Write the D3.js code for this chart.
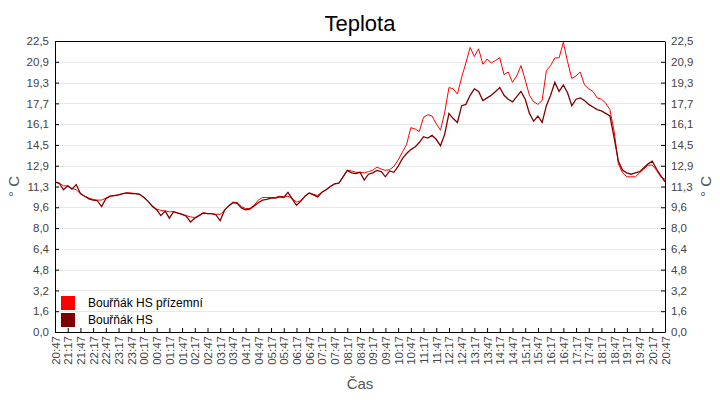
<!DOCTYPE html>
<html>
<head>
<meta charset="utf-8">
<script src="https://cdn.jsdelivr.net/npm/d3@7"></script>
<style>
  body { margin: 0; background: #fff; }
  text { font-family: "Liberation Sans", Arial, sans-serif; }
</style>
</head>
<body>
<svg width="720" height="400"></svg>
<script>
// Teplota - two temperature series, 10 min steps from 20:47 to 20:47
var timeLabels = ["20:47","21:17","21:47","22:17","22:47","23:17","23:47","00:17","00:47","01:17","01:47","02:17","02:47",
  "03:17","03:47","04:17","04:47","05:17","05:47","06:17","06:47","07:17","07:47","08:17","08:47","09:17","09:47",
  "10:17","10:47","11:17","11:47","12:17","12:47","13:17","13:47","14:17","14:47","15:17","15:47","16:17","16:47",
  "17:17","17:47","18:17","18:47","19:17","19:47","20:17","20:47"];

var yLabels = ["0,0","1,6","3,2","4,8","6,4","8,0","9,6","11,3","12,9","14,5","16,1","17,7","19,3","20,9","22,5"];

var seriesNames = ["Bouřňák HS přízemní", "Bouřňák HS"];

// Bouřňák HS (dark)
var hs = [11.6,11.5,11.0,11.3,11.05,11.4,10.7,10.5,10.3,10.2,10.15,9.7,10.3,10.5,10.55,10.6,10.7,10.75,10.7,10.7,
  10.65,10.4,10.1,9.7,9.45,9.0,9.35,8.8,9.3,9.2,9.1,8.95,8.5,8.8,9.0,9.2,9.15,9.15,9.05,8.6,
  9.4,9.75,10.0,9.95,9.6,9.45,9.5,9.75,10.0,10.2,10.25,10.35,10.35,10.45,10.4,10.8,10.3,9.8,10.1,10.5,
  10.75,10.6,10.45,10.8,11.0,11.25,11.45,11.5,12.0,12.5,12.3,12.25,12.35,11.75,12.2,12.3,12.5,12.4,12.0,12.45,
  12.35,12.8,13.4,13.8,14.1,14.3,14.65,15.1,15.0,15.2,14.9,14.4,15.3,16.9,16.5,16.2,17.5,17.6,18.3,18.8,
  18.6,17.9,18.1,18.3,18.6,18.9,18.3,18.0,17.8,18.2,18.6,18.0,16.9,16.3,16.7,16.2,17.5,18.3,19.3,18.6,
  19.1,18.5,17.5,18.0,18.1,17.9,17.6,17.4,17.2,17.1,16.9,16.7,15.0,13.2,12.5,12.3,12.2,12.3,12.4,12.7,
  13.0,13.2,12.6,12.1,11.6];

// Bouřňák HS přízemní (red)
var hsGround = [11.6,11.5,11.3,11.3,11.1,11.0,10.7,10.5,10.35,10.25,10.2,10.2,10.35,10.5,10.55,10.6,10.7,10.75,10.75,10.7,
  10.65,10.4,10.1,9.75,9.5,9.4,9.35,9.3,9.3,9.2,9.1,9.0,8.9,8.85,9.0,9.2,9.15,9.15,9.1,9.1,
  9.4,9.75,10.05,10.0,9.7,9.55,9.55,9.8,10.2,10.4,10.4,10.4,10.4,10.5,10.45,10.5,10.3,10.05,10.15,10.5,
  10.75,10.65,10.55,10.8,11.0,11.25,11.45,11.5,12.0,12.5,12.45,12.35,12.35,12.3,12.4,12.5,12.75,12.6,12.5,12.55,
  12.8,13.3,13.9,14.5,15.8,15.7,15.5,16.6,16.8,16.7,16.1,15.6,17.0,18.9,18.8,18.4,19.7,20.8,22.0,21.3,
  21.9,20.7,21.1,20.8,21.0,21.2,19.9,20.1,19.3,19.8,20.6,19.5,18.3,17.8,17.6,17.9,20.2,20.6,21.2,21.2,
  22.4,20.9,19.6,19.8,20.1,19.1,18.8,18.6,18.1,18.0,17.7,17.2,15.5,13.0,12.3,12.0,12.0,12.0,12.3,12.6,
  12.9,12.9,12.5,12.0,11.8];

var colors = ["#ff0000", "#800000"];

var svg = d3.select("svg"),
    margin = {top: 41, right: 55, bottom: 68, left: 55},
    width = +svg.attr("width") - margin.left - margin.right,
    height = +svg.attr("height") - margin.top - margin.bottom,
    g = svg.append("g").attr("transform", "translate(" + margin.left + "," + margin.top + ")");

var x = d3.scaleLinear().domain([0, 1440]).range([0, width]);
var y = d3.scaleLinear().domain([0, 22.5]).range([height, 0]);
var yStep = 22.5 / (yLabels.length - 1);

// Title
svg.append("text")
  .attr("x", 360)
  .attr("y", 31)
  .attr("text-anchor", "middle")
  .style("font-size", "22px")
  .attr("fill", "#000")
  .text("Teplota");

// Grid lines
g.selectAll(".grid")
  .data(yLabels)
  .enter()
  .append("line")
  .attr("x1", 0)
  .attr("x2", width)
  .attr("y1", function(d, i) { return Math.round(y(i * yStep)) + 0.5; })
  .attr("y2", function(d, i) { return Math.round(y(i * yStep)) + 0.5; })
  .attr("stroke", "#e8e8e8");

// Left Y axis
var yAxisL = d3.axisLeft(y)
  .tickValues(yLabels.map(function(d, i) { return i * yStep; }))
  .tickFormat(function(d, i) { return yLabels[i]; })
  .tickSizeInner(-4).tickSizeOuter(0).tickPadding(6);
var yl = g.append("g").call(yAxisL);

// Right Y axis
var yAxisR = d3.axisRight(y)
  .tickValues(yLabels.map(function(d, i) { return i * yStep; }))
  .tickFormat(function(d, i) { return yLabels[i]; })
  .tickSizeInner(-4).tickSizeOuter(0).tickPadding(6);
var yr = g.append("g").attr("transform", "translate(" + width + ",0)").call(yAxisR);

// X axis
var xAxis = d3.axisBottom(x)
  .tickValues(timeLabels.map(function(d, i) { return i * 30; }))
  .tickFormat(function(d, i) { return timeLabels[i]; })
  .tickSizeInner(-4).tickSizeOuter(0);
var xa = g.append("g").attr("transform", "translate(0," + height + ")").call(xAxis);
xa.selectAll("text")
  .attr("transform", "rotate(-90)")
  .attr("text-anchor", "end")
  .attr("x", -4)
  .attr("y", 0)
  .attr("dy", "0.35em");

[yl, yr, xa].forEach(function(a) {
  a.selectAll("text").style("font-size", "11.5px").attr("fill", "#444").style("font-family", "Liberation Sans, Arial, sans-serif");
  a.selectAll("line").attr("stroke", "#000");
  a.select(".domain").attr("stroke", "#000");
});

// Top border
g.append("line").attr("x1", 0).attr("x2", width).attr("y1", 0.5).attr("y2", 0.5).attr("stroke", "#000");

// Axis titles
svg.append("text")
  .attr("transform", "translate(19," + (margin.top + height / 2) + ") rotate(-90)")
  .attr("text-anchor", "middle")
  .style("font-size", "15px").attr("fill", "#555")
  .text("° C");
svg.append("text")
  .attr("transform", "translate(711," + (margin.top + height / 2) + ") rotate(-90)")
  .attr("text-anchor", "middle")
  .style("font-size", "15px").attr("fill", "#555")
  .text("° C");
svg.append("text")
  .attr("x", 360)
  .attr("y", 389)
  .attr("text-anchor", "middle")
  .style("font-size", "15px").attr("fill", "#555")
  .text("Čas");

// Lines
var line = d3.line()
  .x(function(d, i) { return x(i * 10); })
  .y(function(d) { return y(d); });

g.append("path")
  .datum(hsGround)
  .attr("d", line)
  .attr("fill", "none")
  .attr("stroke", colors[0])
  .attr("stroke-width", 1);

g.append("path")
  .datum(hs)
  .attr("d", line)
  .attr("fill", "none")
  .attr("stroke", colors[1])
  .attr("stroke-width", 1.3);

// Legend
var legend = g.append("g").attr("transform", "translate(6," + (height - 36) + ")");
legend.selectAll("rect")
  .data(seriesNames)
  .enter()
  .append("rect")
  .attr("x", 0)
  .attr("y", function(d, i) { return i * 17; })
  .attr("width", 14)
  .attr("height", 14)
  .attr("fill", function(d, i) { return colors[i]; });
legend.selectAll("text")
  .data(seriesNames)
  .enter()
  .append("text")
  .attr("x", 27)
  .attr("y", function(d, i) { return i * 17 + 11; })
  .style("font-size", "12px")
  .attr("fill", "#000")
  .text(function(d) { return d; });
</script>
</body>
</html>
